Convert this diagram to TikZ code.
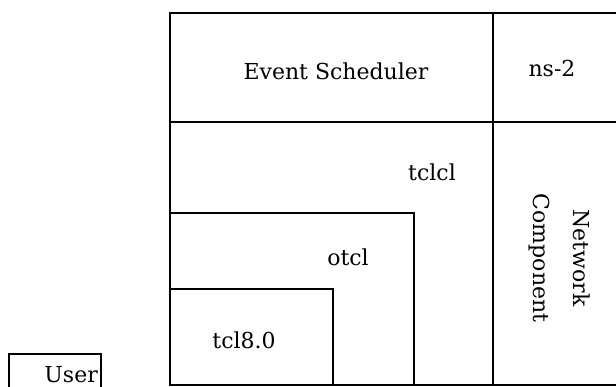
\documentclass[tikz,border=0pt]{standalone}
\usepackage{fontspec}
\setmainfont{DejaVu Serif}
\begin{document}
\begin{tikzpicture}[x=1pt,y=-1pt,
  frame/.style={draw,line width=1.2pt,inner sep=0pt,outer sep=0pt},
  lbl/.style={font=\fontsize{22}{40}\selectfont,inner sep=1pt}]
\useasboundingbox (0,0) rectangle (616,387);
\clip (0,0) rectangle (616,387);
% frames
\node[frame,anchor=north west,minimum width=470pt,minimum height=372pt] (outer) at (170,13) {};
\node[frame,anchor=north west,minimum width=323pt,minimum height=109pt] (sched) at (170,13) {};
\node[frame,anchor=north west,minimum width=147pt,minimum height=263pt] (net) at (493,122) {};
\node[frame,anchor=north west,minimum width=244pt,minimum height=172pt] (otclbox) at (170,213) {};
\node[frame,anchor=north west,minimum width=163pt,minimum height=96pt] (tclbox) at (170,289) {};
\node[frame,anchor=north west,minimum width=92pt,minimum height=40pt] (user) at (9,354) {};
% labels
\node[lbl] (es) at (336,71) {Event Scheduler};
\node[lbl] (ns) at (552,68) {ns-2};
\node[lbl] (tclcl) at (432,172) {tclcl};
\node[lbl] (otcl) at (348,257) {otcl};
\node[lbl] (tcl) at (244,340) {tcl8.0};
\node[lbl,rotate=-90,align=center] (nc) at (560,258) {Network\\Component};
\node[font=\fontsize{22}{28}\selectfont,anchor=south east,inner sep=0pt] (ut) at (98,383) {User};
\end{tikzpicture}
\end{document}
